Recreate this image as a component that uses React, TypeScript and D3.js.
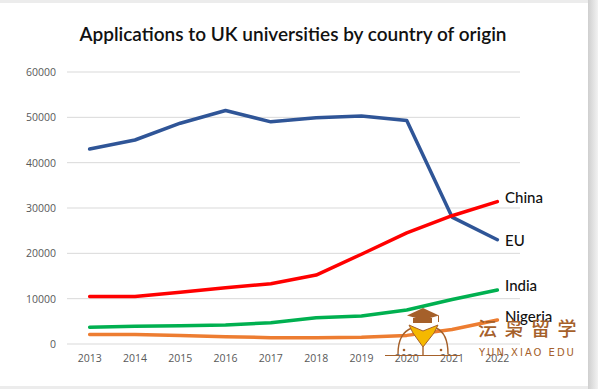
import React from "react";
import * as d3 from "d3";

const years = ["2013", "2014", "2015", "2016", "2017", "2018", "2019", "2020", "2021", "2022"];
const euValues = [43000, 45000, 48700, 51500, 49000, 49900, 50300, 49300, 28000, 23000];
const chinaValues = [10500, 10500, 11400, 12400, 13300, 15200, 19800, 24500, 28300, 31400];
const indiaValues = [3700, 3900, 4000, 4200, 4700, 5800, 6200, 7500, 9800, 11900];
const nigeriaValues = [2100, 2100, 1900, 1600, 1400, 1400, 1500, 1900, 3200, 5300];
const yTicks = [0, 10000, 20000, 30000, 40000, 50000, 60000];

const series = [
  { name: "EU", values: euValues, color: "#2F5597", labelDy: 2 },
  { name: "China", values: chinaValues, color: "#FF0000", labelDy: -2 },
  { name: "India", values: indiaValues, color: "#00B050", labelDy: -3 },
  { name: "Nigeria", values: nigeriaValues, color: "#ED7D31", labelDy: -2 },
];

export default function App() {
  const W = 598, H = 389;
  const x = d3.scaleBand().domain(years).range([67, 520]);
  const y = d3.scaleLinear().domain([0, 60000]).range([344, 72]);
  const cx = (yr: string) => (x(yr) as number) + x.bandwidth() / 2;
  const line = d3
    .line<number>()
    .x((_, i) => cx(years[i]))
    .y((v) => y(v))
    .curve(d3.curveLinear);
  const font = "'Open Sans', 'Noto Sans', sans-serif";
  const brown = "#A5602A";
  return (
    <svg
      width={W}
      height={H}
      style={{ position: "absolute", left: 0, top: 0, display: "block" }}
      fontFamily={font}
    >
      <defs>
        <linearGradient id="shadowR" x1="0" x2="1" y1="0" y2="0">
          <stop offset="0" stopColor="#cfcfcf" />
          <stop offset="1" stopColor="#f2f2f2" />
        </linearGradient>
      </defs>
      <rect x={0} y={0} width={W} height={H} fill="#ececec" />
      <rect x={588} y={0} width={10} height={H} fill="url(#shadowR)" />
      <rect x={0} y={3} width={588} height={383} fill="#ffffff" />
      <text x={293} y={41} textAnchor="middle" fontSize={19} fontWeight={600} fill="#111" fontFamily="Lato, 'Open Sans', sans-serif">
        Applications to UK universities by country of origin
      </text>
      {yTicks.map((t) => (
        <g key={t}>
          <line x1={67} x2={520} y1={y(t)} y2={y(t)} stroke="#d9d9d9" strokeWidth={1} />
          <text x={56} y={y(t) + 4} textAnchor="end" fontSize={10.5} fill="#595959">
            {t}
          </text>
        </g>
      ))}
      {years.map((yr) => (
        <text key={yr} x={cx(yr)} y={362} textAnchor="middle" fontSize={10.5} fill="#595959">
          {yr}
        </text>
      ))}
      {series.map((s) => (
        <path
          key={s.name}
          d={line(s.values) || ""}
          fill="none"
          stroke={s.color}
          strokeWidth={3.5}
          strokeLinejoin="round"
          strokeLinecap="round"
        />
      ))}
      {series.map((s) => (
        <text
          key={s.name + "l"}
          x={505}
          y={y(s.values[s.values.length - 1]) + s.labelDy}
          dominantBaseline="middle"
          fontSize={15}
          fontWeight={500}
          fill="#111"
          fontFamily="Lato, 'Open Sans', sans-serif"
        >
          {s.name}
        </text>
      ))}
      {/* watermark */}
      <g>
        <path d="M 398 354 Q 398 333 412 328" fill="none" stroke={brown} strokeWidth={1.4} />
        <path d="M 448 354 Q 448 333 436 328" fill="none" stroke={brown} strokeWidth={1.4} />
        <path d="M 409 325 L 423 331 L 438 325 L 434 333 L 423 347 L 413 333 Z" fill="#F5B800" stroke={brown} strokeWidth={1} />
        <path d="M 423 347 L 423 355" stroke={brown} strokeWidth={1.4} />
        <path d="M 423 308 L 439 315.5 L 423 320 L 407 315.5 Z" fill={brown} />
        <rect x={413} y={318} width={19} height={5} fill={brown} />
        <path d="M 438.5 315.5 L 438.5 322" stroke={brown} strokeWidth={1} />
        <circle cx={404} cy={350} r={1.3} fill={brown} />
        <circle cx={441} cy={350} r={1.3} fill={brown} />
        <line x1={385} x2={460} y1={355.5} y2={355.5} stroke={brown} strokeWidth={1.2} />
        <text x={478} y={331} dominantBaseline="middle" fontSize={19} fontWeight={500} fill={brown} letterSpacing={7.5} fontFamily="'Noto Sans CJK SC', sans-serif">
          沄枭留学
        </text>
        <text x={479} y={353} dominantBaseline="middle" fontSize={10} fill={brown} letterSpacing={2} fontFamily="'DejaVu Sans', sans-serif">
          YUN XIAO EDU
        </text>
      </g>
    </svg>
  );
}
